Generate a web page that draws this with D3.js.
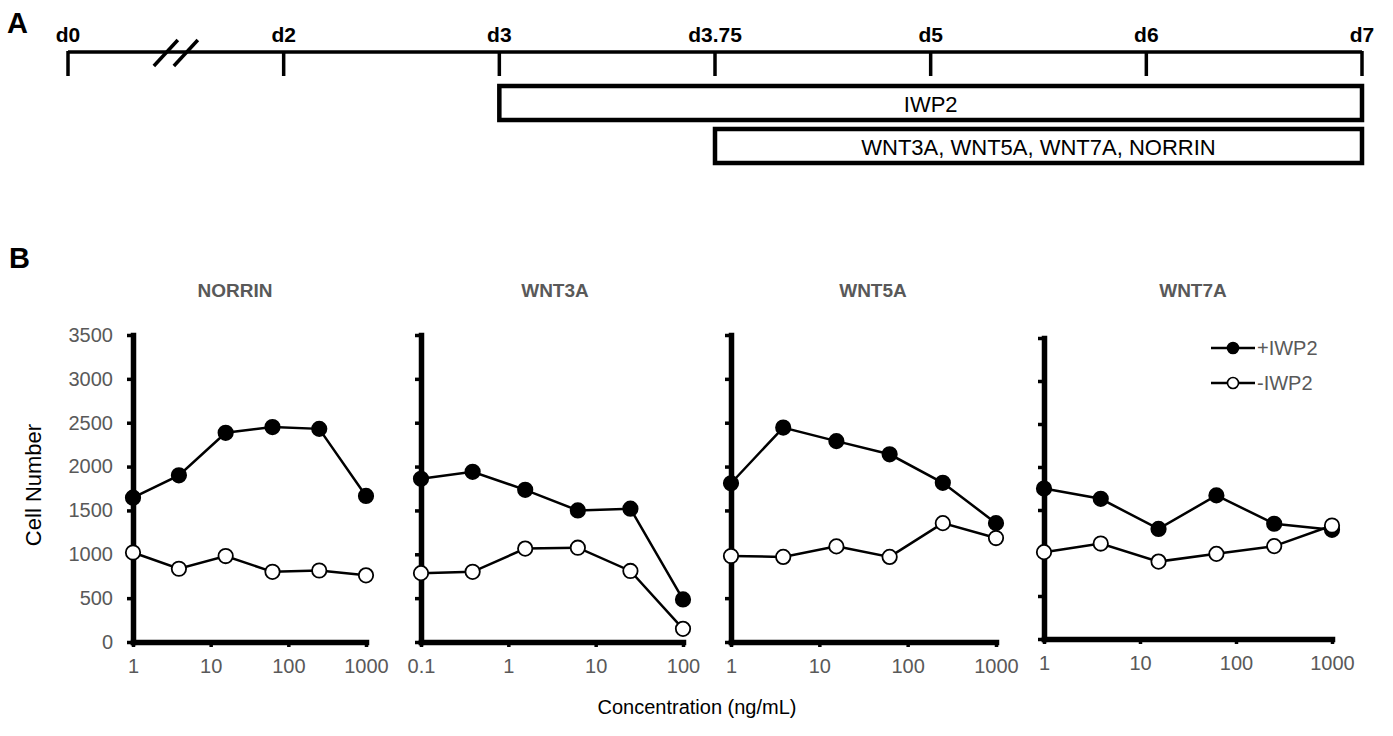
<!DOCTYPE html>
<html>
<head>
<meta charset="utf-8">
<script src="https://cdn.jsdelivr.net/npm/d3@7"></script>
<style>
  body { margin: 0; background: #fff; }
  text { font-family: "Liberation Sans", Arial, sans-serif; }
</style>
</head>
<body>
<script>
// panel A: timeline
var days = ["d0", "d2", "d3", "d3.75", "d5", "d6", "d7"];
var treatments = ["IWP2", "WNT3A, WNT5A, WNT7A, NORRIN"];
var treatmentStart = ["d3", "d3.75"];
var treatmentEnd = ["d7", "d7"];

// panel B: cell number vs concentration
var factors = ["NORRIN", "WNT3A", "WNT5A", "WNT7A"];
var concNorrin = [1, 3.9, 15.6, 62.5, 250, 1000];
var concWnt3a = [0.1, 0.39, 1.56, 6.25, 25, 100];
var concWnt5a = [1, 3.9, 15.6, 62.5, 250, 1000];
var concWnt7a = [1, 3.9, 15.6, 62.5, 250, 1000];

var norrinPlus = [1645, 1900, 2385, 2450, 2430, 1665];
var norrinMinus = [1020, 835, 980, 800, 815, 760];
var wnt3aPlus = [1860, 1940, 1735, 1500, 1520, 485];
var wnt3aMinus = [785, 800, 1065, 1075, 810, 150];
var wnt5aPlus = [1810, 2445, 2290, 2140, 1815, 1355];
var wnt5aMinus = [980, 970, 1090, 970, 1355, 1185];
var wnt7aPlus = [1750, 1630, 1280, 1670, 1340, 1270];
var wnt7aMinus = [1010, 1110, 900, 990, 1080, 1320];

var seriesNames = ["+IWP2", "-IWP2"];
var seriesFill = ["#000", "#fff"];
var yTicks = [0, 500, 1000, 1500, 2000, 2500, 3000, 3500];

var gray = "#595959";

var svg = d3.select("body").append("svg")
  .attr("width", 1393)
  .attr("height", 736);

// ---- A ----
svg.append("text").text("A")
  .attr("x", 7).attr("y", 33)
  .attr("font-size", 29).attr("font-weight", "bold");

var dayX = d3.scalePoint().domain(days).range([68, 1362]);

svg.append("line")
  .attr("x1", dayX("d0")).attr("x2", dayX("d7"))
  .attr("y1", 52).attr("y2", 52)
  .attr("stroke", "#000").attr("stroke-width", 3.5);

var dayG = svg.selectAll("g.day")
  .data(days)
  .enter()
  .append("g")
  .attr("class", "day")
  .attr("transform", function(d){ return "translate(" + dayX(d) + ",0)"; });

dayG.append("line")
  .attr("y1", 51).attr("y2", 76)
  .attr("stroke", "#000").attr("stroke-width", 3.5);

dayG.append("text")
  .text(function(d){ return d; })
  .attr("y", 42)
  .attr("text-anchor", "middle")
  .attr("font-size", 21).attr("font-weight", "bold");

// axis break between d0 and d2
var breakX = (dayX("d0") + dayX("d2")) / 2;
[-10, 10].forEach(function(off) {
  svg.append("line")
    .attr("x1", breakX + off - 12).attr("y1", 66)
    .attr("x2", breakX + off + 12).attr("y2", 40)
    .attr("stroke", "#000").attr("stroke-width", 3.5);
});

var boxTop = [86, 129];
treatments.forEach(function(t, i) {
  var x0 = dayX(treatmentStart[i]);
  var x1 = dayX(treatmentEnd[i]);
  svg.append("rect")
    .attr("x", x0).attr("y", boxTop[i])
    .attr("width", x1 - x0).attr("height", 34)
    .attr("fill", "none")
    .attr("stroke", "#000").attr("stroke-width", 4.5);
  svg.append("text").text(t)
    .attr("x", (x0 + x1) / 2).attr("y", boxTop[i] + 26)
    .attr("text-anchor", "middle")
    .attr("font-size", 22);
});

// ---- B ----
svg.append("text").text("B")
  .attr("x", 9).attr("y", 268)
  .attr("font-size", 29).attr("font-weight", "bold");

var panels = [
  { conc: concNorrin, plus: norrinPlus, minus: norrinMinus, xr: [133, 366], yr: [642, 335], titleX: 235, labels: true },
  { conc: concWnt3a, plus: wnt3aPlus, minus: wnt3aMinus, xr: [421, 683], yr: [642, 335], titleX: 555 },
  { conc: concWnt5a, plus: wnt5aPlus, minus: wnt5aMinus, xr: [731, 996], yr: [642, 335], titleX: 873 },
  { conc: concWnt7a, plus: wnt7aPlus, minus: wnt7aMinus, xr: [1044, 1332], yr: [639, 338], titleX: 1193, legend: true }
];

panels.forEach(function(p, pi) {
  var x = d3.scaleLog()
    .domain([p.conc[0], p.conc[p.conc.length - 1]])
    .range(p.xr);
  var y = d3.scaleLinear().domain([0, 3500]).range(p.yr);
  var g = svg.append("g");

  svg.append("text").text(factors[pi])
    .attr("x", p.titleX).attr("y", 297)
    .attr("text-anchor", "middle")
    .attr("font-size", 19).attr("font-weight", "bold")
    .attr("fill", gray);

  var yAxis = d3.axisLeft(y)
    .tickValues(yTicks)
    .tickSize(6)
    .tickSizeOuter(0)
    .tickPadding(14)
    .tickFormat(p.labels ? d3.format("d") : "");
  var ya = g.append("g")
    .attr("transform", "translate(" + p.xr[0] + ",0)")
    .call(yAxis);

  var decades = x.ticks().filter(function(v){
    return Math.abs(Math.log10(v) - Math.round(Math.log10(v))) < 1e-6;
  });
  var xAxis = d3.axisBottom(x)
    .tickValues(decades)
    .tickSize(5)
    .tickSizeOuter(0)
    .tickPadding(12)
    .tickFormat(function(d){ return d < 1 ? d3.format(".1f")(d) : d3.format("d")(d); });
  var xa = g.append("g")
    .attr("transform", "translate(0," + p.yr[0] + ")")
    .call(xAxis);

  [ya, xa].forEach(function(a) {
    a.select(".domain").attr("stroke-width", 5.5).attr("stroke-linecap", "square");
    a.selectAll(".tick line").attr("stroke-width", 3.5);
    a.selectAll(".tick text")
      .attr("font-size", 20)
      .attr("font-family", "Liberation Sans, Arial, sans-serif")
      .attr("fill", gray);
  });

  var series = [p.plus, p.minus];
  series.forEach(function(vals, si) {
    var pts = vals.map(function(v, i){ return [x(p.conc[i]), y(v)]; });
    g.append("path")
      .attr("d", d3.line()(pts))
      .attr("fill", "none")
      .attr("stroke", "#000").attr("stroke-width", 2.5);
    g.selectAll("circle.s" + si)
      .data(pts)
      .enter()
      .append("circle")
      .attr("class", "s" + si)
      .attr("cx", function(d){ return d[0]; })
      .attr("cy", function(d){ return d[1]; })
      .attr("r", 7.2)
      .attr("fill", seriesFill[si])
      .attr("stroke", "#000").attr("stroke-width", 1.8);
  });

  if (p.legend) {
    var lg = svg.selectAll("g.legend")
      .data(seriesNames)
      .enter()
      .append("g")
      .attr("class", "legend")
      .attr("transform", function(d, i){ return "translate(1211," + (348 + i * 35) + ")"; });
    lg.append("line")
      .attr("x1", 0).attr("x2", 44)
      .attr("stroke", "#000").attr("stroke-width", 2.5);
    lg.append("circle")
      .attr("cx", 22).attr("r", 5.5)
      .attr("fill", function(d, i){ return seriesFill[i]; })
      .attr("stroke", "#000").attr("stroke-width", 1.6);
    lg.append("text")
      .text(function(d){ return d; })
      .attr("x", 46).attr("y", 7)
      .attr("font-size", 20)
      .attr("fill", gray);
  }
});

svg.append("text").text("Cell Number")
  .attr("transform", "translate(41,485) rotate(-90)")
  .attr("text-anchor", "middle")
  .attr("font-size", 22);

svg.append("text").text("Concentration (ng/mL)")
  .attr("x", 697).attr("y", 714)
  .attr("text-anchor", "middle")
  .attr("font-size", 20);
</script>
</body>
</html>
